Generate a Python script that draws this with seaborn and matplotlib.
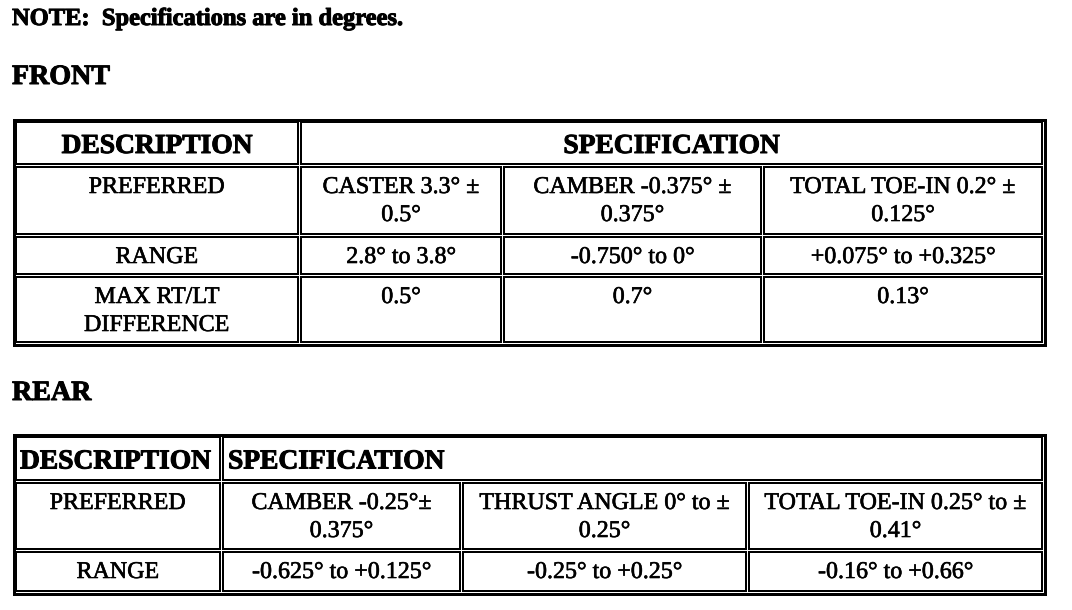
import matplotlib
matplotlib.use("Agg")
import matplotlib.pyplot as plt
from matplotlib.patches import Rectangle
import matplotlib.patheffects as pe
import seaborn as sns

# ---------------- data ----------------
note_text = "NOTE:  Specifications are in degrees."
section_titles = ["FRONT", "REAR"]
header_cols = ["DESCRIPTION", "SPECIFICATION"]

front_labels = ["PREFERRED", "RANGE", "MAX RT/LT\nDIFFERENCE"]
front_caster = ["CASTER 3.3° ±\n0.5°", "2.8° to 3.8°", "0.5°"]
front_camber = ["CAMBER -0.375° ±\n0.375°", "-0.750° to 0°", "0.7°"]
front_toe = ["TOTAL TOE-IN 0.2° ±\n0.125°", "+0.075° to +0.325°", "0.13°"]

rear_labels = ["PREFERRED", "RANGE"]
rear_camber = ["CAMBER -0.25°±\n0.375°", "-0.625° to +0.125°"]
rear_thrust = ["THRUST ANGLE 0° to ±\n0.25°", "-0.25° to +0.25°"]
rear_toe = ["TOTAL TOE-IN 0.25° to ±\n0.41°", "-0.16° to +0.66°"]

# ---------------- style ----------------
sns.set_theme(style="white")
plt.rcParams["font.family"] = ["Liberation Serif", "DejaVu Serif"]

W, H = 1072, 610
fig = plt.figure(figsize=(W / 100, H / 100), dpi=100)
ax = fig.add_axes([0, 0, 1, 1])
ax.set_xlim(0, W)
ax.set_ylim(H, 0)
ax.axis("off")

PX = 0.72  # points per pixel at 100 dpi
HEAD_PX = 27.5
BODY_PX = 24
LINE_H = 28


def box(x0, y0, x1, y1, lw_px):
    h = lw_px / 2.0
    ax.add_patch(Rectangle((x0 + h, y0 + h), (x1 - x0) - lw_px, (y1 - y0) - lw_px,
                           fill=False, edgecolor="black", linewidth=lw_px * PX,
                           joinstyle="miter"))


def put(text, x, base_y, size_px, weight="normal", ha="center", stroke=0.6):
    for i, line in enumerate(text.split("\n")):
        t = ax.text(x, base_y + i * LINE_H, line, ha=ha, va="baseline",
                    fontsize=size_px * PX, fontweight=weight, color="black")
        t.set_path_effects([pe.withStroke(linewidth=stroke * PX, foreground="black")])


def cell(x0, y0, x1, y1, text, size_px=BODY_PX, weight="normal", align="center",
         valign="top", pad=6, stroke=0.6):
    box(x0, y0, x1, y1, 2)
    if align == "center":
        tx = (x0 + x1) / 2
    else:
        tx = x0 + pad
    if valign == "top":
        by = y0 + 27
    else:
        by = (y0 + y1) / 2 + 10
    put(text, tx, by, size_px, weight, ha=align, stroke=stroke)


# ---------------- titles ----------------
put(note_text, 12, 25, 24.5, "bold", ha="left", stroke=1.0)
put(section_titles[0], 12, 84, 28, "bold", ha="left", stroke=1.0)
put(section_titles[1], 12, 400, 28, "bold", ha="left", stroke=1.0)

# ---------------- FRONT table ----------------
box(12, 118, 1046, 346, 3)
fcols = [(15, 299), (300, 502), (503, 762), (763, 1043)]
frows = [(166, 235), (236, 275), (276, 343)]
cell(15, 121, 299, 165, header_cols[0], HEAD_PX, "bold", valign="middle", stroke=1.0)
cell(300, 121, 1043, 165, header_cols[1], HEAD_PX, "bold", valign="middle", stroke=1.0)
front_values = [front_caster, front_camber, front_toe]
for r, (y0, y1) in enumerate(frows):
    cell(fcols[0][0], y0, fcols[0][1], y1, front_labels[r])
    for c, series in enumerate(front_values):
        x0, x1 = fcols[c + 1]
        cell(x0, y0, x1, y1, series[r])

# ---------------- REAR table ----------------
box(12, 433, 1046, 595, 3)
rcols = [(15, 221), (222, 461), (462, 747), (748, 1043)]
rrows = [(482, 550), (551, 592)]
cell(15, 436, 221, 481, header_cols[0], HEAD_PX, "bold", align="left", valign="middle",
     pad=5, stroke=1.0)
cell(222, 436, 1043, 481, header_cols[1], HEAD_PX, "bold", align="left", valign="middle",
     pad=6, stroke=1.0)
rear_values = [rear_camber, rear_thrust, rear_toe]
for r, (y0, y1) in enumerate(rrows):
    cell(rcols[0][0], y0, rcols[0][1], y1, rear_labels[r])
    for c, series in enumerate(rear_values):
        x0, x1 = rcols[c + 1]
        cell(x0, y0, x1, y1, series[r])

fig.savefig("out.png", dpi=100, facecolor="white")
